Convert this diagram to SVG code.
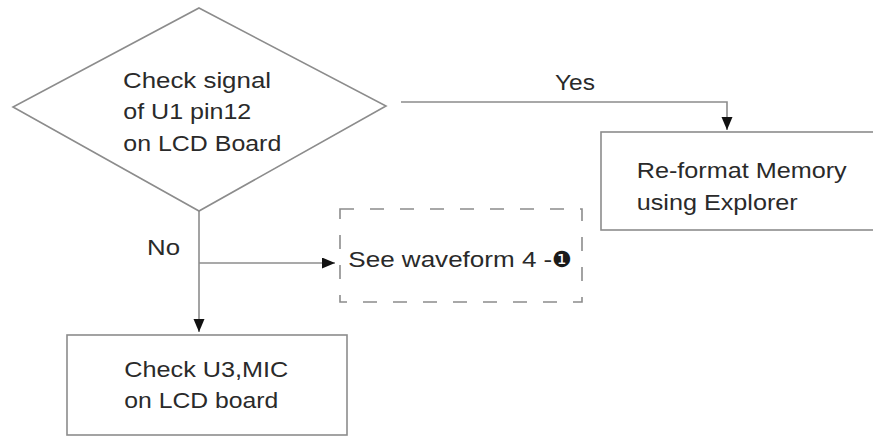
<svg xmlns="http://www.w3.org/2000/svg" width="873" height="437" viewBox="0 0 873 437">
<style>
  .shape { fill: #ffffff; stroke: #8c8c8c; stroke-width: 1.6; }
  .dashed { fill: #ffffff; stroke: #8c8c8c; stroke-width: 1.6; stroke-dasharray: 14 16; }
  .conn { fill: none; stroke: #8c8c8c; stroke-width: 1.6; }
  .t { font-family: "Liberation Sans", Arial, sans-serif; font-size: 22px; fill: #2a2a2a; }
  .sym { font-family: "DejaVu Sans", sans-serif; font-size: 22px; fill: #1a1a1a; }
</style>
<defs>
  <marker id="arrow" markerUnits="userSpaceOnUse" markerWidth="14" markerHeight="12" refX="13" refY="5.5" orient="auto">
    <path d="M0,0 L13,5.5 L0,11 Z" fill="#111111"/>
  </marker>
</defs>
<rect width="873" height="437" fill="#ffffff"/>

<g id="connectors">
  <polyline class="conn" points="401,102 727,102 727,130" marker-end="url(#arrow)"/>
  <polyline class="conn" points="199,211 199,332" marker-end="url(#arrow)"/>
  <polyline class="conn" points="199,263 335,263" marker-end="url(#arrow)"/>
  <text class="t" x="555" y="89.5" textLength="40" lengthAdjust="spacingAndGlyphs">Yes</text>
  <text class="t" x="147" y="255" textLength="33" lengthAdjust="spacingAndGlyphs">No</text>
</g>

<g id="decision">
  <polygon class="shape" points="199,8 386,106 199,211 13,107"/>
  <text class="t" x="123" y="87.5" textLength="148" lengthAdjust="spacingAndGlyphs">Check signal</text>
  <text class="t" x="123.3" y="119" textLength="128" lengthAdjust="spacingAndGlyphs">of U1 pin12</text>
  <text class="t" x="123.3" y="150.5" textLength="158" lengthAdjust="spacingAndGlyphs">on LCD Board</text>
</g>

<g id="reformat">
  <rect class="shape" x="601" y="132" width="290" height="98"/>
  <text class="t" x="636.7" y="177.5" textLength="210" lengthAdjust="spacingAndGlyphs">Re-format Memory</text>
  <text class="t" x="636.7" y="210" textLength="161" lengthAdjust="spacingAndGlyphs">using Explorer</text>
</g>

<g id="waveform">
  <rect class="dashed" x="340" y="209" width="242" height="93"/>
  <text class="t" x="348.3" y="267" textLength="204" lengthAdjust="spacingAndGlyphs">See waveform 4 -</text>
  <text class="sym" x="552" y="267">❶</text>
</g>

<g id="checkU3">
  <rect class="shape" x="67" y="335" width="280" height="100"/>
  <text class="t" x="124.3" y="377" textLength="164" lengthAdjust="spacingAndGlyphs">Check U3,MIC</text>
  <text class="t" x="124.3" y="408" textLength="154" lengthAdjust="spacingAndGlyphs">on LCD board</text>
</g>
</svg>
